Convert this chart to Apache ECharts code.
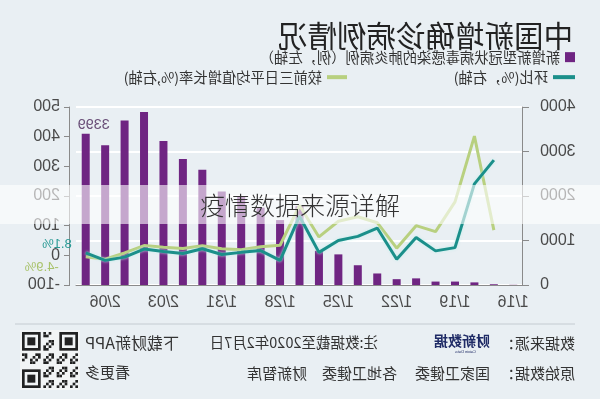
<!DOCTYPE html>
<html>
<head>
<meta charset="utf-8">
<script src="https://cdn.jsdelivr.net/npm/echarts@6/dist/echarts.min.js"></script>
<style>
body{margin:0;background:#e9eff3;}
#wrap{position:relative;width:600px;height:399px;overflow:hidden;}
#chart{width:600px;height:399px;transform:scaleX(-1);}
#band{position:absolute;left:0;top:185px;width:600px;height:39px;background:rgba(255,255,255,0.6);
  text-align:center;font:300 25px/39px "Noto Sans CJK SC";color:#333;}
</style>
</head>
<body>
<div id="wrap"><div id="chart"></div><div id="band">疫情数据来源详解</div></div>
<script>
var dates = ['1/16','1/17','1/18','1/19','1/20','1/21','1/22','1/23','1/24','1/25','1/26','1/27',
             '1/28','1/29','1/30','1/31','2/01','2/02','2/03','2/04','2/05','2/06','2/07'];
// 新增确诊（例，左轴）
var newCases = [4, 17, 59, 77, 77, 149, 131, 259, 444, 688, 769, 1771,
                1459, 1737, 1982, 2102, 2590, 2829, 3235, 3887, 3694, 3143, 3399];
// 环比（%，右轴）
var momRate = [null, 321, 241, 26, 15, 60, -13, 92, 64, 50, 10, 132,
               -17, 16, 10, 3, 22, 6, 13, 21, -6, -17, 8.1];
// 较前三日平均值增长率（%，右轴）
var avg3Rate = [null, 85, 402, 180, 80, 100, 24, 110, 130, 115, 62, 168,
                34, 29, 19, 22, 32, 23, 27, 33, 8, -13, -4.9];
var caseAxis = {min: 0, max: 4000, step: 1000};
var rateAxis = {min: -100, max: 500, step: 100};

var cjk = '"Noto Sans CJK SC"';
var txt = '#333';

var barData = newCases.map(function(v, i){
    if(i == newCases.length - 1)
        return {value: v, label: {show: true}};
    return v;
});

// 二维码装饰
var qr = [];
var n = 21, s = 56 / n, qx = 522, qy = 332;
function finder(x, y){
    qr.push({type:'rect', shape:{x:x, y:y, width:7*s, height:7*s}, style:{fill:'#222'}});
    qr.push({type:'rect', shape:{x:x+s, y:y+s, width:5*s, height:5*s}, style:{fill:'#f2f4f5'}});
    qr.push({type:'rect', shape:{x:x+2*s, y:y+2*s, width:3*s, height:3*s}, style:{fill:'#222'}});
}
qr.push({type:'rect', shape:{x:qx-2, y:qy-2, width:60, height:60}, style:{fill:'#f2f4f5'}});
for(var i = 0; i < n; i++){
    for(var j = 0; j < n; j++){
        if((i < 8 && j < 8) || (i < 8 && j > n-9) || (i > n-9 && j > n-9)) continue;
        if(((i * 7 + j * 13 + i * j) % 5) < 2)
            qr.push({type:'rect', shape:{x:qx+j*s, y:qy+i*s, width:s, height:s}, style:{fill:'#222'}});
    }
}
finder(qx, qy);
finder(qx + (n-7)*s, qy);
finder(qx + (n-7)*s, qy + (n-7)*s);

var footer = [
    {type:'line', shape:{x1:25, y1:324, x2:585, y2:324}, style:{stroke:'#c4cbd1', lineWidth:1}},
    {type:'text', x:25, y:343, style:{text:'数据来源：', font:'15px ' + cjk, fill:txt, verticalAlign:'middle'}},
    {type:'text', x:110, y:341, style:{text:'财新数据', font:'bold 14px ' + cjk, fill:'#1f2b66', verticalAlign:'middle'}},
    {type:'text', x:124, y:352, style:{text:'Caixin Data', font:'4px sans-serif', fill:'#1f2b66', verticalAlign:'middle'}},
    {type:'text', x:222, y:342, style:{text:'注:数据截至2020年2月7日', font:'14.5px ' + cjk, fill:txt, verticalAlign:'middle'}},
    {type:'text', x:515, y:343, style:{text:'下载财新APP', font:'16px ' + cjk, fill:txt, align:'right', verticalAlign:'middle'}},
    {type:'text', x:25, y:373, style:{text:'原始数据：', font:'15px ' + cjk, fill:txt, verticalAlign:'middle'}},
    {type:'text', x:110, y:373, style:{text:'国家卫健委', font:'15px ' + cjk, fill:txt, verticalAlign:'middle'}},
    {type:'text', x:203, y:373, style:{text:'各地卫健委', font:'15px ' + cjk, fill:txt, verticalAlign:'middle'}},
    {type:'text', x:293, y:373, style:{text:'财新智库', font:'15px ' + cjk, fill:txt, verticalAlign:'middle'}},
    {type:'text', x:515, y:372, style:{text:'看更多', font:'15px ' + cjk, fill:txt, align:'right', verticalAlign:'middle'}}
];

var myChart = echarts.init(document.getElementById('chart'));
var legendText = {fontSize: 14.3, color: txt, fontFamily: cjk};
var plainNum = function(v){ return String(v); };
var option = {
    backgroundColor: '#e9eff3',
    animation: false,
    title: {
        text: '中国新增确诊病例情况',
        left: 27, top: 21, padding: 0,
        textStyle: {fontSize: 29.5, fontWeight: 'normal', color: '#222', fontFamily: cjk}
    },
    legend: [
        {data: ['新增新型冠状病毒感染的肺炎病例（例，左轴）'], left: 25, top: 50, padding: 0,
         icon: 'rect', itemWidth: 10, itemHeight: 10, textStyle: legendText},
        {data: ['环比(%，右轴)'], left: 25, top: 70, padding: 0,
         icon: 'rect', itemWidth: 22, itemHeight: 4, textStyle: legendText},
        {data: ['较前三日平均值增长率(%,右轴)'], left: 253, top: 70, padding: 0,
         icon: 'rect', itemWidth: 20, itemHeight: 4, textStyle: legendText}
    ],
    grid: {left: 77, right: 76, top: 107, bottom: 114},
    xAxis: {
        type: 'category',
        data: dates,
        boundaryGap: true,
        axisLine: {onZero: false, lineStyle: {color: '#8a8a8a'}},
        axisTick: {length: 5, lineStyle: {color: '#8a8a8a'},
                   interval: function(i){ return i % 3 === 0; }},
        axisLabel: {interval: 2, margin: 10, fontSize: 16, color: '#4a4a4a', fontFamily: 'Liberation Sans'}
    },
    yAxis: [
        {
            type: 'value', position: 'left',
            min: caseAxis.min, max: caseAxis.max, interval: caseAxis.step,
            axisLine: {show: true, lineStyle: {color: '#8a8a8a'}},
            axisTick: {show: true, length: 6, lineStyle: {color: '#8a8a8a'}},
            axisLabel: {margin: 17, fontSize: 16, color: '#4a4a4a', fontFamily: 'Liberation Sans', formatter: plainNum},
            splitLine: {show: true, lineStyle: {color: '#ffffff', width: 2}}
        },
        {
            type: 'value', position: 'right', offset: 6,
            min: rateAxis.min, max: rateAxis.max, interval: rateAxis.step,
            axisLine: {show: true, lineStyle: {color: '#8a8a8a'}},
            axisTick: {show: true, length: 6, lineStyle: {color: '#8a8a8a'}},
            axisLabel: {margin: 10, fontSize: 16, color: '#4a4a4a', fontFamily: 'Liberation Sans', formatter: plainNum},
            splitLine: {show: false}
        }
    ],
    series: [
        {
            name: '新增新型冠状病毒感染的肺炎病例（例，左轴）',
            type: 'bar',
            yAxisIndex: 0,
            barWidth: 8,
            itemStyle: {color: '#6f2582'},
            label: {position: 'top', distance: 1, offset: [-8, 0], fontSize: 14.5,
                    color: '#6a4f78', fontFamily: 'Liberation Sans'},
            data: barData
        },
        {
            name: '较前三日平均值增长率(%,右轴)',
            type: 'line',
            yAxisIndex: 1,
            symbol: 'none',
            lineStyle: {width: 3, color: '#b8d07f'},
            itemStyle: {color: '#b8d07f'},
            endLabel: {show: true, formatter: function(p){ return p.value + '%'; },
                       offset: [19, 11], fontSize: 13, color: '#a9c36c', fontFamily: 'Liberation Sans'},
            data: avg3Rate
        },
        {
            name: '环比(%，右轴)',
            type: 'line',
            yAxisIndex: 1,
            symbol: 'none',
            lineStyle: {width: 3, color: '#1b8f8a', shadowColor: 'rgba(190,240,235,0.9)', shadowBlur: 3},
            itemStyle: {color: '#1b8f8a'},
            endLabel: {show: true, formatter: function(p){ return p.value + '%'; },
                       offset: [6, -9], fontSize: 13, color: '#2a9a95', fontFamily: 'Liberation Sans'},
            data: momRate
        }
    ],
    graphic: footer.concat(qr)
};
myChart.setOption(option);
</script>
</body>
</html>
